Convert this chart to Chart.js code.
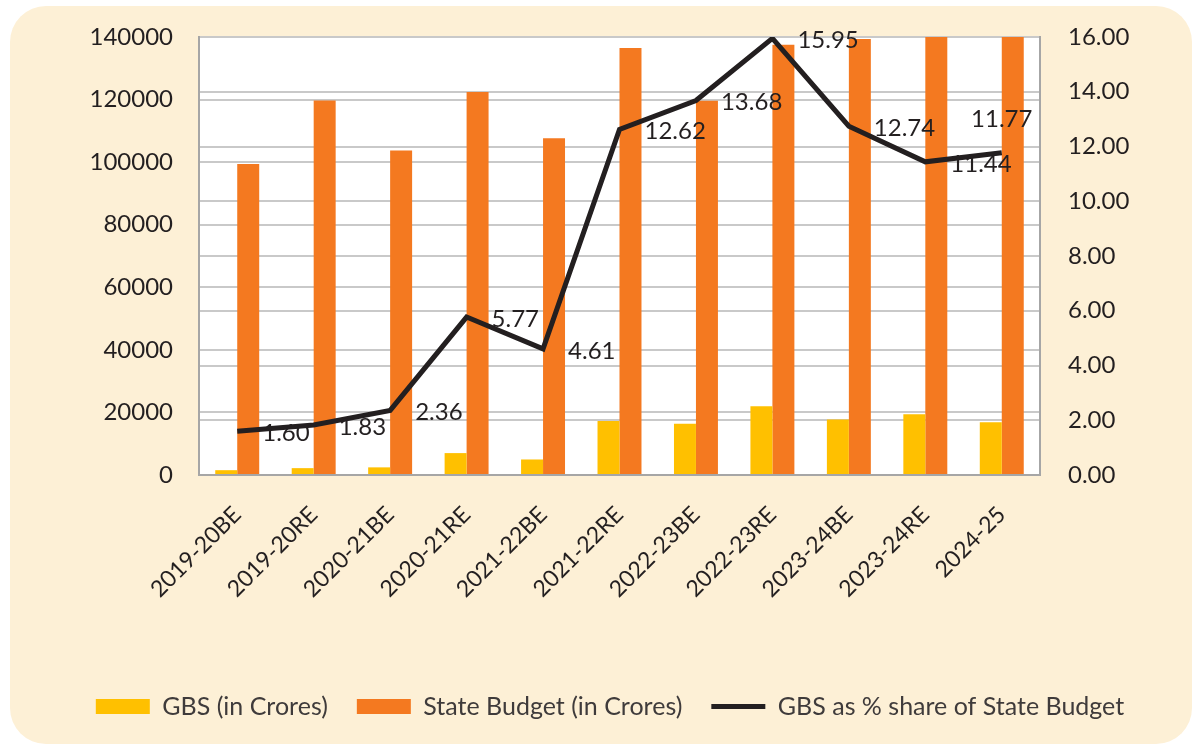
<!DOCTYPE html>
<html>
<head>
<meta charset="utf-8">
<script src="https://cdn.jsdelivr.net/npm/chart.js@4"></script>
<style>
  html, body { margin: 0; padding: 0; background: #ffffff; }
  #card {
    position: absolute; left: 10px; top: 6px; width: 1182px; height: 738px;
    background: #fdf0d6; border-radius: 36px;
  }
  #wrap { position: absolute; left: 0; top: 0; width: 1200px; height: 744px; }
</style>
</head>
<body>
<div id="card"></div>
<div id="wrap"><canvas id="budgetChart" width="1200" height="744"></canvas></div>
<script>
    // values
    const years = ['2019-20BE', '2019-20RE', '2020-21BE', '2020-21RE', '2021-22BE', '2021-22RE',
                   '2022-23BE', '2022-23RE', '2023-24BE', '2023-24RE', '2024-25'];
    const gbsCrores = [1540, 2190, 2440, 7000, 4960, 17230, 16360, 21940, 17760, 19420, 16850];
    const stateBudgetCrores = [99400, 119700, 103750, 122400, 107600, 136500, 119600, 137550, 139400, 169750, 143160];
    const gbsShare = [1.60, 1.83, 2.36, 5.77, 4.61, 12.62, 13.68, 15.95, 12.74, 11.44, 11.77];

    const textColor = '#231f20';
    const gridColor = '#c9c9c9';
    const borderGrey = '#a6a6a6';

    // white plot area behind the bars
    const plotBg = {
        id: 'plotBg',
        beforeDraw(chart) {
            const a = chart.chartArea, c = chart.ctx;
            c.save();
            c.fillStyle = '#ffffff';
            c.fillRect(a.left, a.top, a.right - a.left, a.bottom - a.top);
            c.restore();
        }
    };

    // value labels for the share line
    const shareLabels = {
        id: 'shareLabels',
        afterDatasetsDraw(chart) {
            const meta = chart.getDatasetMeta(2);
            const c = chart.ctx;
            c.save();
            c.font = '24px Lato';
            c.fillStyle = textColor;
            c.textBaseline = 'middle';
            meta.data.forEach((pt, i) => {
                const txt = gbsShare[i].toFixed(2);
                const w = c.measureText(txt).width;
                if (pt.x + 25 + w > chart.chartArea.right) {
                    c.textAlign = 'center';
                    c.fillText(txt, pt.x, pt.y - 34);
                } else {
                    c.textAlign = 'left';
                    c.fillText(txt, pt.x + 25, pt.y + 2);
                }
            });
            c.restore();
        }
    };

    const ctx = document.getElementById('budgetChart').getContext('2d');
    const budgetChart = new Chart(ctx, {
        type: 'bar',
        data: {
            labels: years,
            datasets: [{
                label: 'GBS (in Crores)',
                data: gbsCrores,
                backgroundColor: '#ffc000',
                pointStyle: 'rect',
                yAxisID: 'y',
                order: 1
            }, {
                label: 'State Budget (in Crores)',
                data: stateBudgetCrores,
                backgroundColor: '#f47920',
                pointStyle: 'rect',
                yAxisID: 'y',
                order: 1
            }, {
                type: 'line',
                label: 'GBS as % share of State Budget',
                data: gbsShare,
                borderColor: textColor,
                backgroundColor: textColor,
                borderWidth: 5,
                pointRadius: 0,
                pointStyle: 'line',
                tension: 0,
                yAxisID: 'y1',
                order: 0
            }]
        },
        options: {
            responsive: false,
            animation: false,
            layout: { padding: { left: 20, top: 37, right: 0, bottom: 15 } },
            datasets: {
                bar: { barPercentage: 1, categoryPercentage: 0.575 }
            },
            plugins: {
                tooltip: { enabled: false },
                legend: {
                    position: 'bottom',
                    labels: {
                        usePointStyle: true,
                        pointStyleWidth: 54,
                        boxHeight: 15,
                        padding: 29,
                        color: '#3f3b3b',
                        font: { family: 'Lato', size: 25 },
                        sort: (a, b) => a.datasetIndex - b.datasetIndex
                    }
                }
            },
            scales: {
                x: {
                    grid: { display: false },
                    border: { display: true, color: borderGrey, width: 2 },
                    ticks: {
                        color: textColor,
                        font: { family: 'Lato', size: 23 },
                        minRotation: 45,
                        maxRotation: 45,
                        padding: 18
                    },
                    afterFit(axis) { axis.height = 190; }
                },
                y: {
                    position: 'left',
                    min: 0,
                    max: 140000,
                    ticks: {
                        stepSize: 20000,
                        color: textColor,
                        font: { family: 'Lato', size: 24 },
                        padding: 26,
                        callback: v => String(v)
                    },
                    grid: { color: gridColor, lineWidth: 2, drawTicks: false },
                    border: { color: borderGrey, width: 2 },
                    afterFit(axis) { axis.width = 179; axis.paddingTop = 0; axis.paddingBottom = 0; }
                },
                y1: {
                    position: 'right',
                    min: 0,
                    max: 16,
                    ticks: {
                        stepSize: 2,
                        color: textColor,
                        font: { family: 'Lato', size: 24 },
                        padding: 28,
                        callback: v => v.toFixed(2)
                    },
                    grid: { color: gridColor, lineWidth: 2, drawTicks: false },
                    border: { color: borderGrey, width: 2 },
                    afterFit(axis) { axis.width = 160; axis.paddingTop = 0; axis.paddingBottom = 0; }
                }
            }
        },
        plugins: [plotBg, shareLabels]
    });
</script>
</body>
</html>
